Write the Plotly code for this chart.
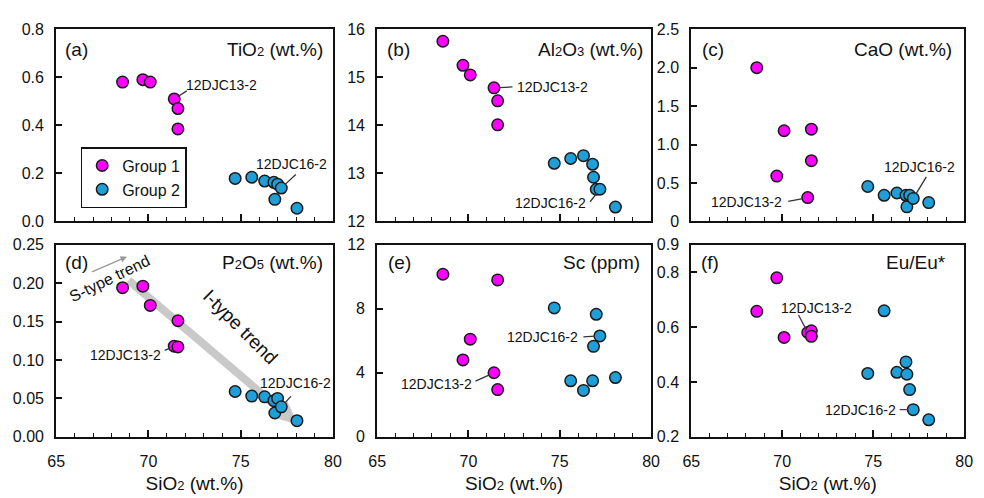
import plotly.graph_objects as go

# ---------------- data ----------------
SIO2_G1 = [68.6, 69.7, 70.1, 71.4, 71.6, 71.6]
SIO2_G2 = [74.7, 75.6, 76.3, 76.8, 76.85, 77.0, 77.2, 78.05]

TIO2_G1 = [0.58, 0.59, 0.58, 0.51, 0.47, 0.385]
TIO2_G2 = [0.179, 0.184, 0.168, 0.163, 0.092, 0.155, 0.139, 0.055]

AL2O3_G1 = [15.75, 15.25, 15.05, 14.78, 14.51, 14.01]
AL2O3_G2 = [13.21, 13.31, 13.37, 13.19, 12.92, 12.67, 12.67, 12.30]

CAO_G1 = [2.0, 0.59, 1.18, 0.31, 1.20, 0.79]
CAO_G2 = [0.455, 0.34, 0.37, 0.34, 0.19, 0.34, 0.30, 0.245]

P2O5_G1 = [0.194, 0.196, 0.171, 0.118, 0.151, 0.117]
P2O5_G2 = [0.059, 0.053, 0.052, 0.047, 0.031, 0.050, 0.039, 0.021]

SC_G1 = [10.15, 4.8, 6.1, 4.0, 9.8, 2.95]
SC_G2 = [8.05, 3.5, 2.9, 3.5, 5.65, 7.65, 6.3, 3.7]

EU_G1 = [0.657, 0.779, 0.562, 0.58, 0.586, 0.566]
EU_G2 = [0.431, 0.659, 0.435, 0.473, 0.428, 0.372, 0.299, 0.262]

LABEL_G1 = "12DJC13-2"   # index 3 of group 1
LABEL_G2 = "12DJC16-2"   # index 6 of group 2
IDX_G1, IDX_G2 = 3, 6

X_RANGE = [65, 80]
X_TICKS = [65, 70, 75, 80]

# trend arrows in panel (d) (SiO2, P2O5)
I_TREND = dict(x0=68.93, y0=0.2035, x1=78.1, y1=0.016)
S_TREND = dict(x0=66.86, y0=0.2138, x1=68.84, y1=0.2344)
S_TEXT = dict(x=67.9, y=0.206)
I_TEXT = dict(x=74.95, y=0.143)

SUB = "<span style='font-size:13px'>{}</span>"
PANELS = [
    dict(letter="(a)", title="TiO" + SUB.format(2) + " (wt.%)",
         g1=TIO2_G1, g2=TIO2_G2, yrange=[0, 0.8],
         yticks=[0, 0.2, 0.4, 0.6, 0.8], ytext=["0.0", "0.2", "0.4", "0.6", "0.8"]),
    dict(letter="(b)", title="Al" + SUB.format(2) + "O" + SUB.format(3) + " (wt.%)",
         g1=AL2O3_G1, g2=AL2O3_G2, yrange=[12, 16],
         yticks=[12, 13, 14, 15, 16], ytext=["12", "13", "14", "15", "16"]),
    dict(letter="(c)", title="CaO (wt.%)",
         g1=CAO_G1, g2=CAO_G2, yrange=[0, 2.5],
         yticks=[0, 0.5, 1.0, 1.5, 2.0, 2.5], ytext=["0", "0.5", "1.0", "1.5", "2.0", "2.5"]),
    dict(letter="(d)", title="P" + SUB.format(2) + "O" + SUB.format(5) + " (wt.%)",
         g1=P2O5_G1, g2=P2O5_G2, yrange=[0, 0.25],
         yticks=[0, 0.05, 0.10, 0.15, 0.20, 0.25], ytext=["0.00", "0.05", "0.10", "0.15", "0.20", "0.25"]),
    dict(letter="(e)", title="Sc (ppm)",
         g1=SC_G1, g2=SC_G2, yrange=[0, 12],
         yticks=[0, 4, 8, 12], ytext=["0", "4", "8", "12"]),
    dict(letter="(f)", title="Eu/Eu*",
         g1=EU_G1, g2=EU_G2, yrange=[0.2, 0.9],
         yticks=[0.2, 0.4, 0.6, 0.8, 0.9], ytext=["0.2", "0.4", "0.6", "0.8", "0.9"]),
]

# ---------------- layout geometry ----------------
W, H = 984, 498
XDOM = [[48 / W, 330 / W], [375 / W, 654 / W], [695 / W, 973 / W]]
YDOM = [[(H - 221) / H, (H - 22) / H], [(H - 444) / H, (H - 245) / H]]

# label placement per panel: (line tail dx, dy) in px from point, text xshift, yshift, xanchor
LEADERS = [
    [dict(tail=(14, -9), shift=(10, 14), anchor="left"),
     dict(tail=(16, -15), shift=(10, 24), anchor="center")],
    [dict(tail=(20, -1), shift=(21, 1), anchor="left"),
     dict(tail=(-11, 14), shift=(-12, -14), anchor="right")],
    [dict(tail=(-21, 4), shift=(-24, -4), anchor="right"),
     dict(tail=(14, -23), shift=(6, 31), anchor="center")],
    [dict(tail=(-11, 5), shift=(-11, -9), anchor="right"),
     dict(tail=(11, -12), shift=(14, 24), anchor="center")],
    [dict(tail=(-20, 9), shift=(-20, -11), anchor="right"),
     dict(tail=(-18, 1), shift=(-20, -1), anchor="right")],
    [dict(tail=(-10, -19), shift=(9, 25), anchor="center"),
     dict(tail=(-15, 0), shift=(-15, 0), anchor="right")],
]
TITLE_SHIFT = [(7, -8, -20), (8, -6, -20), (9, -10, -20), (7, -8, -18), (9, -9, -18), (8, -16, -18)]
LEADER_COLOR = ["#333", "#333", "#333", "#333", "#333", "#5a2a60"]

FONT = "Liberation Sans, Arial, sans-serif"
C1, C2 = "#ff00ff", "#1f9fd8"
EDGE = "#1a1a1a"
INK = "#111"

fig = go.Figure()
layout = dict(width=W, height=H, margin=dict(l=0, r=0, t=0, b=0),
              paper_bgcolor="white", plot_bgcolor="white",
              font=dict(family=FONT, size=16, color=INK),
              showlegend=True,
              legend=dict(x=73 / W, y=(H - 144) / H, xanchor="left", yanchor="top",
                          bgcolor="white", bordercolor=INK, borderwidth=1.5,
                          font=dict(size=16, family=FONT, color=INK),
                          tracegroupgap=0, itemwidth=30))
annotations = []
shapes = []

for i, p in enumerate(PANELS):
    n = i + 1
    xs = "x" if n == 1 else f"x{n}"
    ys = "y" if n == 1 else f"y{n}"
    row, col = divmod(i, 3)
    bottom = row == 1
    fig.add_trace(go.Scatter(x=SIO2_G1, y=p["g1"], mode="markers", name="Group 1",
                             xaxis=xs, yaxis=ys, showlegend=(n == 1), cliponaxis=False,
                             marker=dict(size=11.5, color=C1, line=dict(color=EDGE, width=1.5))))
    fig.add_trace(go.Scatter(x=SIO2_G2, y=p["g2"], mode="markers", name="Group 2",
                             xaxis=xs, yaxis=ys, showlegend=(n == 1), cliponaxis=False,
                             marker=dict(size=11.5, color=C2, line=dict(color=EDGE, width=1.5))))
    xa = dict(domain=XDOM[col], range=X_RANGE, anchor=ys, tickvals=X_TICKS,
              ticks="inside", ticklen=7, tickwidth=1.5, tickcolor=INK,
              showline=True, linewidth=2, linecolor=INK, mirror=True,
              showgrid=False, zeroline=False, showticklabels=bottom,
              ticklabelstandoff=9, tickfont=dict(size=16),
              minor=dict(dtick=1, ticks="inside", ticklen=4, tickwidth=1.2,
                         tickcolor=INK, showgrid=False))
    if bottom:
        xa["title"] = dict(text="SiO" + SUB.format(2) + " (wt.%)",
                           font=dict(size=19), standoff=8)
    ya = dict(domain=YDOM[row], range=p["yrange"], anchor=xs,
              tickvals=p["yticks"], ticktext=p["ytext"],
              ticks="inside", ticklen=6, tickwidth=1.5, tickcolor=INK,
              showline=True, linewidth=2, linecolor=INK, mirror=True,
              showgrid=False, zeroline=False, ticklabelstandoff=7,
              tickfont=dict(size=16))
    layout["xaxis" if n == 1 else f"xaxis{n}"] = xa
    layout["yaxis" if n == 1 else f"yaxis{n}"] = ya

    ls, rs, vs = TITLE_SHIFT[i]
    annotations.append(dict(text=p["letter"], xref=f"{xs} domain", yref=f"{ys} domain",
                            x=0, y=1, xanchor="left", yanchor="middle", xshift=ls, yshift=vs,
                            showarrow=False, font=dict(size=19, color=INK)))
    annotations.append(dict(text=p["title"], xref=f"{xs} domain", yref=f"{ys} domain",
                            x=1, y=1, xanchor="right", yanchor="middle", xshift=rs, yshift=vs,
                            showarrow=False, font=dict(size=19, color=INK)))

    for k, (sx, sy, lab) in enumerate([(SIO2_G1[IDX_G1], p["g1"][IDX_G1], LABEL_G1),
                                       (SIO2_G2[IDX_G2], p["g2"][IDX_G2], LABEL_G2)]):
        L = LEADERS[i][k]
        annotations.append(dict(text="", x=sx, y=sy, xref=xs, yref=ys,
                                ax=L["tail"][0], ay=L["tail"][1], showarrow=True,
                                arrowhead=0, arrowwidth=1.3, arrowcolor=LEADER_COLOR[i],
                                standoff=5))
        annotations.append(dict(text=lab, x=sx, y=sy, xref=xs, yref=ys, showarrow=False,
                                xanchor=L["anchor"], yanchor="middle",
                                xshift=L["shift"][0], yshift=L["shift"][1],
                                font=dict(size=14, color=INK)))

# ---- trend arrows in panel (d) ----
px_x = (XDOM[0][1] - XDOM[0][0]) * W / (X_RANGE[1] - X_RANGE[0])
px_y = (YDOM[1][1] - YDOM[1][0]) * H / (PANELS[3]["yrange"][1] - PANELS[3]["yrange"][0])
dxp = (I_TREND["x1"] - I_TREND["x0"]) * px_x
dyp = (I_TREND["y1"] - I_TREND["y0"]) * px_y
ln = (dxp ** 2 + dyp ** 2) ** 0.5
ux, uy = dxp / ln, dyp / ln
head_len, head_half = 24, 11
bx, by = -head_len * ux, -head_len * uy          # base centre relative to tip (px, y up)
nx, ny = -uy, ux
c1 = (bx + head_half * nx, by + head_half * ny)
c2 = (bx - head_half * nx, by - head_half * ny)
TREND_GREY = "#c9c9c9"
shapes.append(dict(type="line", xref="x4", yref="y4", layer="below",
                   x0=I_TREND["x0"], y0=I_TREND["y0"],
                   x1=I_TREND["x1"] + (bx + 2 * ux) / px_x, y1=I_TREND["y1"] + (by + 2 * uy) / px_y,
                   line=dict(color=TREND_GREY, width=8)))
shapes.append(dict(type="path", xref="x4", yref="y4", layer="below",
                   xsizemode="pixel", ysizemode="pixel",
                   xanchor=I_TREND["x1"], yanchor=I_TREND["y1"],
                   path=f"M 0,0 L {c1[0]:.1f},{c1[1]:.1f} L {c2[0]:.1f},{c2[1]:.1f} Z",
                   fillcolor=TREND_GREY, line=dict(width=0)))
annotations.append(dict(text="", x=S_TREND["x1"], y=S_TREND["y1"], xref="x4", yref="y4",
                        ax=S_TREND["x0"], ay=S_TREND["y0"], axref="x4", ayref="y4",
                        showarrow=True, arrowhead=2, arrowsize=1, arrowwidth=1.3,
                        arrowcolor="#9a9a9a"))
annotations.append(dict(text="S-type trend", x=S_TEXT["x"], y=S_TEXT["y"], xref="x4", yref="y4",
                        showarrow=False, textangle=-26,
                        font=dict(size=16, color=INK)))
annotations.append(dict(text="I-type trend", x=I_TEXT["x"], y=I_TEXT["y"], xref="x4", yref="y4",
                        showarrow=False, textangle=45, font=dict(size=19, color=INK)))

layout["annotations"] = annotations
layout["shapes"] = shapes
fig.update_layout(**layout)
fig.write_html("out.html")
